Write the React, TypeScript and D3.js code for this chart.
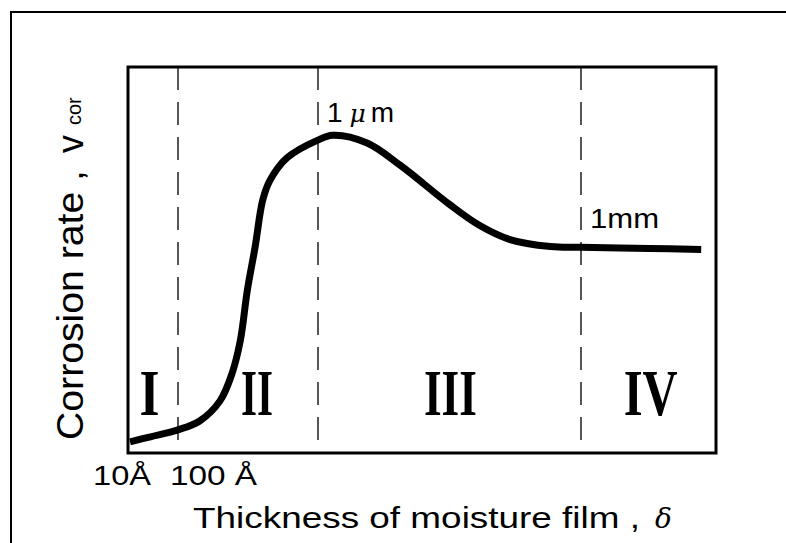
import * as d3 from 'd3';

// thickness of moisture film as log10(Å)
const logThickness = [1.04, 1.45, 2, 2.31, 2.6, 2.77, 2.89, 2.99, 3.1, 3.21, 3.31, 3.56, 3.99, 4.17, 4.56, 4.94, 5.5, 5.84, 6.19, 6.65, 6.99, 7.79, 8.38];
// corrosion rate, arbitrary units (0-100 = plot height)
const corrosionRate = [2.9, 4.2, 6.0, 8.3, 13.5, 20.5, 29.1, 42.1, 53.2, 65.5, 70.5, 76.5, 81.0, 82.3, 80.3, 74.5, 64.4, 59.0, 55.3, 53.5, 53.3, 53.0, 52.7];

// region boundaries (log10 Å): 100 Å, 1 µm, 1 mm
const boundaries = [2, 4, 7];
const regionLabels = ['I', 'II', 'III', 'IV'];
const regionCenters = [1.43, 3.13, 5.51, 7.8];
const regionWidths = [20, 32, 53, 54];
const tickLabels = ['10Å', '100 Å'];
const tickValues = [1, 2];

const W = 786;
const H = 543;
const plot = { left: 128, top: 67, right: 716, bottom: 453 };

export default function App() {
  // axis is not a clean log scale in the figure, so piecewise by decade groups
  const x = d3.scaleLinear().domain([1, 2, 4, 7, 8.55]).range([plot.left, 178, 318, 581, plot.right]);
  const y = d3.scaleLinear().domain([0, 100]).range([plot.bottom, plot.top]);

  const pts = logThickness.map((t, i) => [t, corrosionRate[i]] as [number, number]);
  const line = d3
    .line<[number, number]>()
    .x((d) => x(d[0]))
    .y((d) => y(d[1]))
    .curve(d3.curveCatmullRom.alpha(0.5));

  const sans = 'Liberation Sans, Arial, sans-serif';

  return (
    <svg width={W} height={H} style={{ position: 'absolute', left: 0, top: 0, background: '#fff' }}>
      {/* outer frame */}
      <rect x={11} y={12} width={W + 10} height={H + 10} fill="none" stroke="#000" strokeWidth={2} />

      {/* boundaries */}
      {boundaries.map((b) => (
        <line
          key={b}
          x1={x(b)}
          x2={x(b)}
          y1={plot.top}
          y2={plot.bottom}
          stroke="#444"
          strokeWidth={1.8}
          strokeDasharray="23,12"
        />
      ))}

      {/* curve */}
      <path d={line(pts) || ''} fill="none" stroke="#000" strokeWidth={7} strokeLinecap="butt" />

      {/* plot frame */}
      <rect
        x={plot.left}
        y={plot.top}
        width={plot.right - plot.left}
        height={plot.bottom - plot.top}
        fill="none"
        stroke="#000"
        strokeWidth={3}
      />

      {/* region numerals */}
      {regionLabels.map((r, i) => (
        <text
          key={r}
          x={x(regionCenters[i]) - regionWidths[i] / 2}
          y={415}
          fontFamily="Liberation Serif, Times New Roman, serif"
          fontWeight="bold"
          fontSize={66}
          textLength={regionWidths[i]}
          lengthAdjust="spacingAndGlyphs"
        >
          {r}
        </text>
      ))}

      {/* boundary labels */}
      <text x={x(4) + 9} y={122} fontFamily={sans} fontSize={28}>
        1<tspan fontStyle="italic" fontFamily="DejaVu Serif, serif" fontSize={25} dx={7}>μ</tspan>
        <tspan dx={5}>m</tspan>
      </text>
      <text x={x(7) + 9} y={228} fontFamily={sans} fontSize={27} textLength={69} lengthAdjust="spacingAndGlyphs">
        1mm
      </text>

      {/* x ticks */}
      <text x={x(tickValues[0]) - 35} y={485} fontFamily={sans} fontSize={28} textLength={58} lengthAdjust="spacingAndGlyphs">
        {tickLabels[0]}
      </text>
      <text x={x(tickValues[1]) - 8} y={485} fontFamily={sans} fontSize={28} textLength={87} lengthAdjust="spacingAndGlyphs">
        {tickLabels[1]}
      </text>

      {/* x title */}
      <text x={193} y={528} fontFamily={sans} fontSize={30} textLength={447} lengthAdjust="spacingAndGlyphs">
        Thickness of moisture film ,
      </text>
      <text x={655} y={528} fontFamily="DejaVu Serif, serif" fontStyle="italic" fontSize={28}>
        δ
      </text>

      {/* y title */}
      <text
        transform="translate(83,440) rotate(-90)"
        fontFamily={sans}
        fontSize={37}
        textLength={270}
        lengthAdjust="spacingAndGlyphs"
      >
        Corrosion  rate ,
      </text>
      <text transform="translate(83,153) rotate(-90)" fontFamily={sans} fontSize={36}>
        v
      </text>
      <text transform="translate(81,125) rotate(-90)" fontFamily={sans} fontSize={20}>
        cor
      </text>
    </svg>
  );
}
